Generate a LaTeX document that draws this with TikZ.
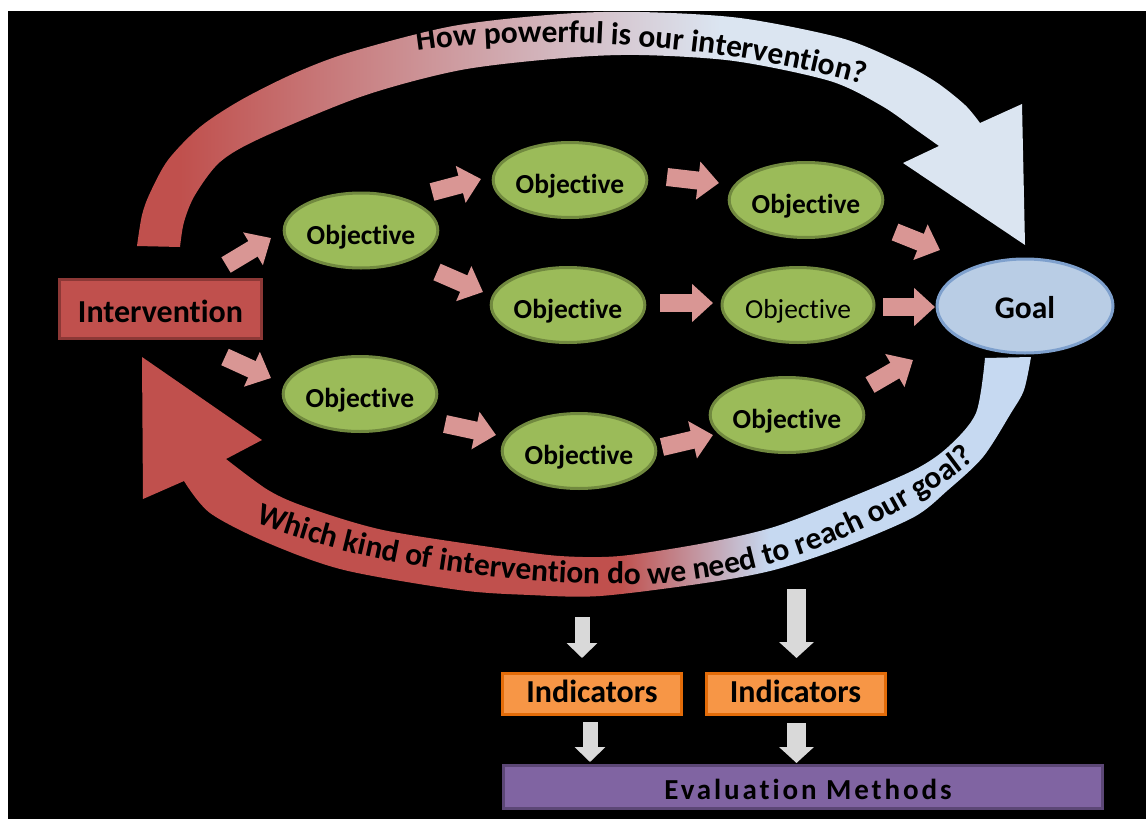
\documentclass[tikz,border=0pt]{standalone}
\usepackage{fontspec}
\setmainfont{Carlito}[Ligatures=NoCommon]
\usetikzlibrary{arrows.meta,decorations.text,shapes.geometric}
\definecolor{bred}{HTML}{C0504D}
\definecolor{bredd}{HTML}{8C3836}
\definecolor{bblue}{HTML}{DBE5F1}
\definecolor{bblue2}{HTML}{C6D9F1}
\definecolor{ogreen}{HTML}{9BBB59}
\definecolor{ogreend}{HTML}{71893F}
\definecolor{gfill}{HTML}{B9CDE5}
\definecolor{gdraw}{HTML}{7EA0CD}
\definecolor{pinkar}{HTML}{D99694}
\definecolor{grayar}{HTML}{D9D9D9}
\definecolor{ofill}{HTML}{F79646}
\definecolor{odraw}{HTML}{E36C09}
\definecolor{pfill}{HTML}{8064A2}
\definecolor{pdraw}{HTML}{5C4776}
\begin{document}
\begin{tikzpicture}[x=1pt,y=-1pt,
  obj/.style={ellipse, fill=ogreen, draw=ogreend, line width=3pt, minimum width=152pt, minimum height=75pt, inner sep=0pt, text height=27.5pt, text depth=0pt, font=\fontsize{27.5}{27.5}\selectfont\bfseries},
  objr/.style={obj, font=\fontsize{27.5}{27.5}\selectfont},
  intv/.style={rectangle, fill=bred, draw=bredd, line width=3pt, minimum width=202pt, minimum height=59pt, inner sep=0pt, text height=26pt, text depth=0pt, font=\fontsize{32}{32}\selectfont\bfseries},
  goalst/.style={ellipse, fill=gfill, draw=gdraw, line width=3pt, minimum width=176pt, minimum height=94pt, inner sep=0pt, text height=24pt, text depth=0pt, font=\fontsize{31.5}{31.5}\selectfont\bfseries},
  indst/.style={rectangle, fill=ofill, draw=odraw, line width=3pt, minimum width=179pt, minimum height=41pt, inner sep=0pt, text height=16pt, text depth=0pt, font=\fontsize{32}{32}\selectfont\bfseries},
  evst/.style={rectangle, fill=pfill, draw=pdraw, line width=3pt, minimum width=599pt, minimum height=43pt, inner sep=0pt, text height=24pt, text depth=0pt},
  pk/.style={draw=pinkar, line width=18pt, line cap=butt, -{Triangle[length=21pt,width=37pt]}},
  grsmall/.style={draw=grayar, line width=15pt, line cap=butt, -{Triangle[length=15pt,width=30pt]}},
  grbig/.style={draw=grayar, line width=19pt, line cap=butt, -{Triangle[length=16pt,width=34pt]}},
  bandtext/.style={decorate, decoration={text along path, text align=center, text format delimiters={|}{|}, text={|\fontsize{31.5}{31.5}\selectfont\bfseries|#1}}}
]
\useasboundingbox (0,0) rectangle (1146,819);
\fill[white] (0,0) rectangle (1146,819);
\fill[black] (8,11) rectangle (1146,819);

% top band
\begin{scope}
\clip (137,246) -- plot[smooth] coordinates {(137,246) (142,215) (150,193) (168,160) (200,127) (241,100) (295,73) (351,52) (453,26) (560,14) (640,12) (740,18) (841,38) (900,62) (936,82) (965,105) (980,123)} -- (1022,104) -- (1025,245) -- (903,163) -- (939,146) -- plot[smooth] coordinates {(939,146) (915,129) (882,106) (830,81) (734,61) (639,55) (564,58) (461,70) (363,96) (261,138) (220,162) (195,195) (184,222) (180,247)} -- cycle;
\fill[bred] (100,0) rectangle (180,300);
\shade[left color=bred, right color=bblue] (180,0) rectangle (720,300);
\fill[bblue] (720,0) rectangle (1100,300);
\end{scope}

% bottom band
\begin{scope}
\clip (1031,357) -- plot[smooth] coordinates {(1031,357) (1024,390) (1011,413) (983,457) (948,490) (914,517) (844,547) (774,570) (705,583) (600,596) (530,595) (459,590) (344,570) (268,543) (210,513) (184,481)} -- (143,499) -- (142,357) -- (262,440) -- (226,459) -- plot[smooth] coordinates {(226,459) (268,490) (306,507) (383,530) (497,548) (560,556) (620,556) (705,543) (774,527) (844,500) (914,470) (948,447) (976,413) (985,358)} -- cycle;
\fill[bred] (100,300) rectangle (620,620);
\shade[left color=bred, right color=bblue2] (620,300) rectangle (770,620);
\fill[bblue2] (770,300) rectangle (1100,620);
\end{scope}

% band texts
\path[bandtext={How powerful is our intervention?}] (385,57) .. controls (495,31) and (725,38) .. (895,94);
\path[bandtext={Which kind of intervention do we need to reach our goal?}] (228,511) .. controls (330,558) and (480,583) .. (620,584) .. controls (740,588) and (895,535) .. (998,440);

% nodes
\node[intv] (interv) at (160.5,309) {Intervention};
\node[obj] (o1) at (361,230.5) {Objective};
\node[obj] (o2) at (570,180) {Objective};
\node[obj] (o3) at (806,200) {Objective};
\node[obj] (o4) at (568,305) {Objective};
\node[objr] (o5) at (798,305) {Objective};
\node[obj] (o6) at (360,394) {Objective};
\node[obj] (o7) at (579,451) {Objective};
\node[obj] (o8) at (787,415) {Objective};
\node[goalst] (goal) at (1025,306) {Goal};
\node[indst] (ind1) at (592,694) {Indicators};
\node[indst] (ind2) at (795.5,694) {Indicators};
\node[evst] (eval) at (803,787) {\fontsize{29}{29}\selectfont\bfseries\addfontfeatures{LetterSpace=10}\hspace*{10pt}Evaluation Methods};

% pink arrows
\draw[pk] ([shift={(65.5,-44)}]interv.center) -- ([shift={(-90,7.5)}]o1.center);
\draw[pk] ([shift={(64.5,48)}]interv.center) -- ([shift={(-89,-16)}]o6.center);
\draw[pk] ([shift={(71,-38.5)}]o1.center) -- ([shift={(-89,-1)}]o2.center);
\draw[pk] ([shift={(76,41.5)}]o1.center) -- ([shift={(-85,-13)}]o4.center);
\draw[pk] ([shift={(97,-3)}]o2.center) -- ([shift={(-87,-17)}]o3.center);
\draw[pk] ([shift={(89,32)}]o3.center) -- ([shift={(-85,-56)}]goal.center);
\draw[pk] ([shift={(92,-2)}]o4.center) -- ([shift={(-85,-2)}]o5.center);
\draw[pk] ([shift={(85,2)}]o5.center) -- ([shift={(-90,1)}]goal.center);
\draw[pk] ([shift={(85,30)}]o6.center) -- ([shift={(-83,-16)}]o7.center);
\draw[pk] ([shift={(83,-4)}]o7.center) -- ([shift={(-74,20)}]o8.center);
\draw[pk] ([shift={(83,-30)}]o8.center) -- ([shift={(-112,54)}]goal.center);

% gray arrows
\coordinate (c1) at (582,617);
\coordinate (c2) at (796.5,589);
\draw[grsmall] (c1) -- ([shift={(-10,-36)}]ind1.center);
\draw[grbig] (c2) -- ([shift={(1,-36)}]ind2.center);
\draw[grsmall] ([shift={(-2,28)}]ind1.center) -- ([shift={(-213,-25)}]eval.center);
\draw[grbig] ([shift={(1,29)}]ind2.center) -- ([shift={(-6.5,-24)}]eval.center);
\end{tikzpicture}
\end{document}
